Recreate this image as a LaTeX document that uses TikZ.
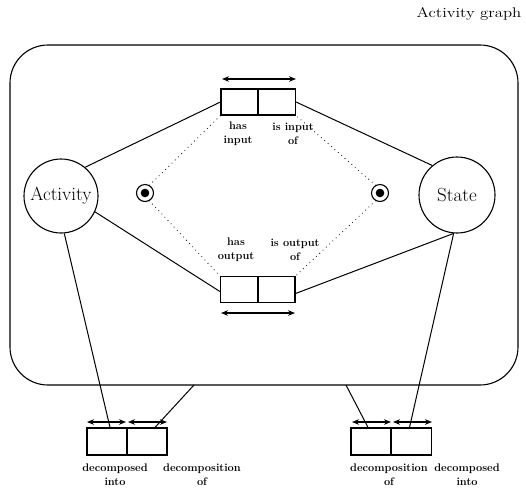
\documentclass[tikz,border=0pt]{standalone}
\usetikzlibrary{arrows.meta}
\begin{document}
\begin{tikzpicture}[x=1pt,y=-1pt,
  line/.style={line width=1pt},
  cell/.style={draw,line width=1.2pt,minimum width=37pt,minimum height=26pt,inner sep=0pt},
  smallcell/.style={draw,line width=1.2pt,minimum width=40pt,minimum height=27pt,inner sep=0pt},
  lbl/.style={font=\fontsize{11}{14}\selectfont\bfseries,align=center,inner sep=0pt},
  dbl/.style={line width=1.2pt,{Stealth[length=7pt,width=5.5pt]}-{Stealth[length=7pt,width=5.5pt]}},
  dots/.style={line width=1.1pt,dash pattern=on 0pt off 4.5pt,line cap=round},
  circ/.style={draw,circle,line width=1.1pt,inner sep=0pt}]
\useasboundingbox (0,0) rectangle (526,499);
\node[font=\fontsize{14}{16}\selectfont,anchor=center] (title) at (469,14) {\scalebox{1.2}[1]{Activity graph}};
\draw[line width=1.1pt,rounded corners=38pt] (10,45) rectangle (518,385);
\coordinate (bl1) at (194,385);
\coordinate (br1) at (346,385);
% circles
\node[circ,minimum size=74pt,font=\fontsize{19}{22}\selectfont] (act) at (61,196) {Activity};
\node[circ,minimum size=76pt,font=\fontsize{19}{22}\selectfont] (st) at (457,195) {State};
% targets
\node[circ,minimum size=17pt] (t1) at (145,193) {};
\fill (t1) circle (4.3pt);
\node[circ,minimum size=17pt] (t2) at (380,193) {};
\fill (t2) circle (4.3pt);
% top cells
\node[cell] (hi) at (239.5,102) {};
\node[cell] (ii) at (277,102) {};
\draw[dbl] (222,79) -- (296,79);
% bottom cells
\node[cell] (ho) at (239,289.5) {};
\node[cell] (io) at (276.5,289.5) {};
\draw[dbl] (221,313) -- (295,313);
% bottom-left pair
\node[smallcell] (dl1) at (107,441.5) {};
\node[smallcell] (dl2) at (147,441.5) {};
\draw[dbl] (87,422) -- (126,422);
\draw[dbl] (128,422) -- (167,422);
% bottom-right pair
\node[smallcell] (dr1) at (371,441.5) {};
\node[smallcell] (dr2) at (411.5,441.5) {};
\draw[dbl] (352,422) -- (391,422);
\draw[dbl] (393,422) -- (432,422);
% solid connectors
\draw[line] (act.50) -- (hi.west);
\draw[line] (ii.east) -- (st.130);
\draw[line] (act.-25) -- ([yshift=-2pt]ho.west);
\draw[line] ([yshift=-4pt]io.east) -- (st.-95);
\draw[line] (act.-85) -- ([xshift=3pt]dl1.north);
\draw[line] (bl1) -- ([xshift=8pt]dl2.north);
\draw[line] (br1) -- ([xshift=-3pt]dr1.north);
\draw[line] (st.-95) -- ([xshift=-2pt]dr2.north);
% dotted connectors
\draw[dots] (t1.60) -- (hi.south west);
\draw[dots] (t2.120) -- (ii.south east);
\draw[dots] (t1.-60) -- (ho.north west);
\draw[dots] (t2.-120) -- (io.north east);
% labels
\node[lbl] (l1) at (238,134) {has\\input};
\node[lbl] (l2) at (293,134) {is input\\of};
\node[lbl] (l3) at (236,250) {has\\output};
\node[lbl] (l4) at (295,250) {is output\\of};
\node[lbl] (l5) at (115,475) {decomposed\\into};
\node[lbl] (l6) at (202,475) {decomposition\\of};
\node[lbl] (l7) at (389,475) {decomposition\\of};
\node[lbl] (l8) at (467,475) {decomposed\\into};
\end{tikzpicture}
\end{document}
